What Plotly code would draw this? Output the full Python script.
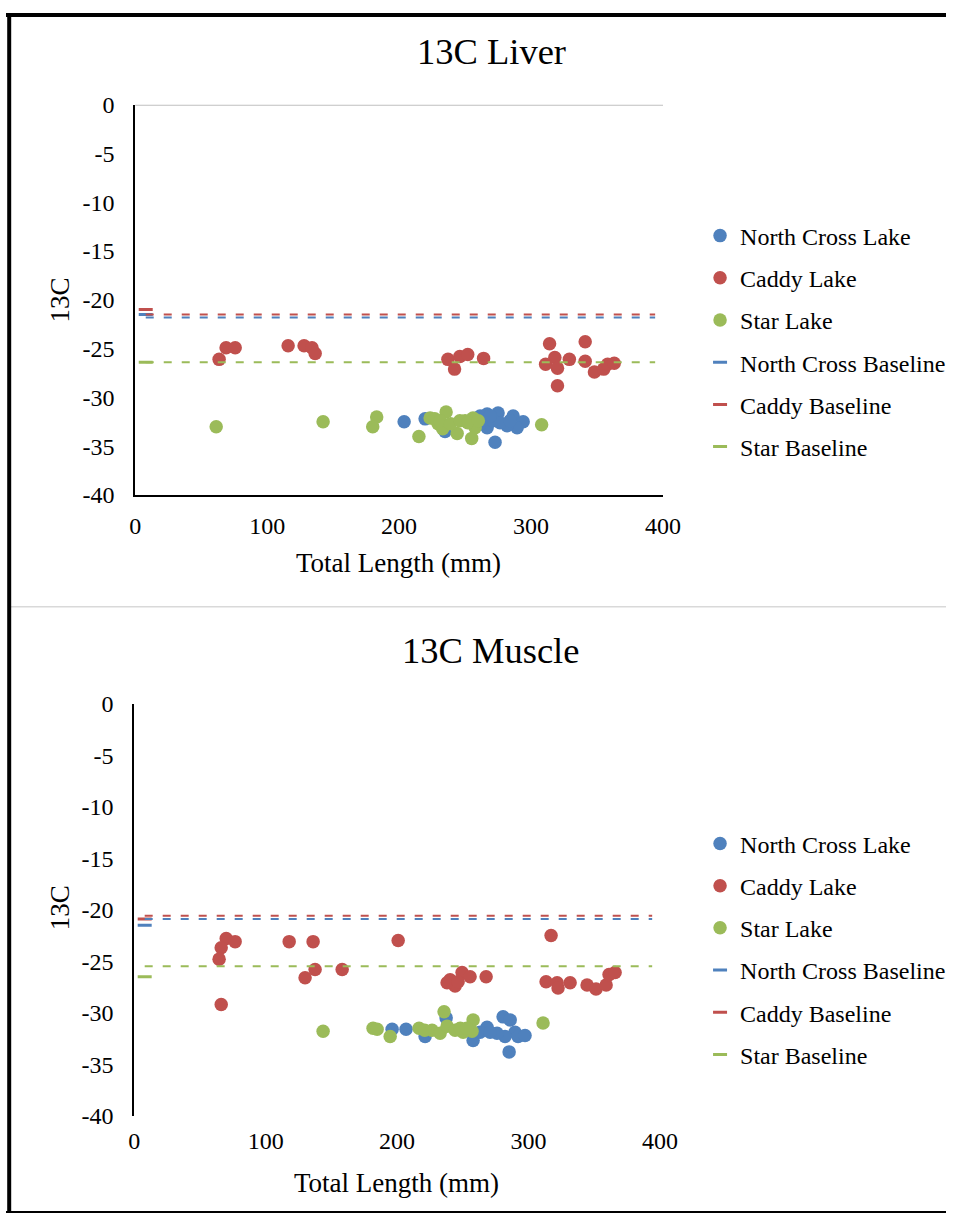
import plotly.graph_objects as go

# ---------------- data: 13C Liver ----------------
liver_nc_x = [203.8, 219.7, 261.4, 266.7, 275.0, 286.4, 294.0, 272.7, 289.4, 281.8, 266.7, 261.4, 234.8, 253.8, 271.0, 276.5, 284.0, 269.0]
liver_nc_y = [-32.5, -32.2, -31.9, -31.7, -31.6, -31.9, -32.5, -34.6, -33.1, -32.9, -33.1, -32.7, -33.5, -32.4, -32.4, -32.6, -32.4, -31.9]
liver_cd_x = [63.6, 68.9, 75.8, 115.9, 128.0, 134.0, 136.4, 237.0, 242.0, 246.0, 252.0, 264.0, 314.0, 318.0, 311.0, 320.0, 320.0, 329.0, 341.0, 341.0, 348.0, 355.0, 358.0, 363.0]
liver_cd_y = [-26.1, -24.9, -24.9, -24.7, -24.7, -24.9, -25.5, -26.1, -27.1, -25.8, -25.6, -26.0, -24.5, -25.9, -26.6, -27.0, -28.8, -26.1, -24.3, -26.3, -27.4, -27.1, -26.6, -26.5]
liver_st_x = [61.4, 142.4, 183.0, 180.0, 215.0, 223.5, 235.6, 229.5, 233.0, 244.0, 250.0, 256.0, 257.6, 255.0, 308.0, 227.0, 231.0, 239.0, 246.0, 252.0, 260.0]
liver_st_y = [-33.0, -32.5, -32.0, -33.0, -34.0, -32.1, -31.5, -32.7, -33.2, -33.7, -32.4, -32.1, -33.1, -34.2, -32.8, -32.2, -32.4, -32.7, -32.4, -32.6, -32.4]
liver_base_x = [8]
liver_base_nc = [-21.5]
liver_base_cd = [-21.0]
liver_base_st = [-26.4]
liver_line_x = [8, 394]
liver_line_nc = [-21.8, -21.8]
liver_line_cd = [-21.5, -21.5]
liver_line_st = [-26.4, -26.4]

# ---------------- data: 13C Muscle ----------------
mus_nc_x = [196.2, 206.8, 221.3, 237.3, 257.8, 268.4, 263.1, 280.6, 286.0, 289.7, 282.1, 292.0, 297.3, 285.2, 276.0, 270.7]
mus_nc_y = [-31.6, -31.6, -32.3, -30.5, -32.7, -31.4, -31.9, -30.4, -30.7, -31.9, -32.3, -32.3, -32.2, -33.8, -32.0, -31.9]
mus_cd_x = [70.0, 76.8, 66.2, 64.6, 66.2, 117.9, 136.1, 130.0, 137.6, 158.2, 200.8, 317.1, 240.3, 244.1, 249.4, 255.5, 267.7, 238.0, 246.4, 313.3, 321.7, 322.4, 331.6, 344.5, 351.3, 359.0, 361.2, 365.8]
mus_cd_y = [-22.8, -23.1, -23.7, -24.8, -29.2, -23.1, -23.1, -26.6, -25.8, -25.8, -23.0, -22.5, -26.8, -27.4, -26.1, -26.5, -26.5, -27.1, -27.0, -27.0, -27.1, -27.6, -27.1, -27.3, -27.7, -27.3, -26.3, -26.1]
mus_st_x = [143.7, 181.7, 184.8, 194.7, 216.7, 235.7, 226.6, 232.7, 238.0, 244.1, 250.2, 257.8, 257.0, 311.0, 221.0, 248.0, 253.0]
mus_st_y = [-31.8, -31.5, -31.6, -32.3, -31.5, -29.9, -31.7, -32.0, -31.3, -31.7, -31.9, -30.7, -31.8, -31.0, -31.7, -31.5, -31.5]
mus_base_x = [8]
mus_base_nc = [-21.5]
mus_base_cd = [-20.9]
mus_base_st = [-26.5]
mus_line_x = [8, 394]
mus_line_nc = [-20.9, -20.9]
mus_line_cd = [-20.6, -20.6]
mus_line_st = [-25.5, -25.5]

x_ticks = [0, 100, 200, 300, 400]
x_tick_labels = ["0", "100", "200", "300", "400"]
y_ticks = [0, -5, -10, -15, -20, -25, -30, -35, -40]
y_tick_labels = ["0", "-5", "-10", "-15", "-20", "-25", "-30", "-35", "-40"]

BLUE = "#4F81BD"
RED = "#C0504D"
GREEN = "#9BBB59"
BLACK = "#000000"
FONT = "Liberation Serif"

W, H = 964, 1226
# where the figure lands in the photographed picture (measured calibration)
PIC_X0, PIC_W = 5.8, 940.2
PIC_Y0, PIC_H = 11.1, 1202.3

fig = go.Figure()


def add_panel(xa, ya, legend, nc, cd, st, bx, bnc, bcd, bst, lx, lnc, lcd, lst):
    ax = dict(xaxis=xa, yaxis=ya)
    for name, (xs, ys), col in [("North Cross Lake", nc, BLUE), ("Caddy Lake", cd, RED), ("Star Lake", st, GREEN)]:
        fig.add_trace(go.Scatter(x=xs, y=ys, mode="markers", name=name, legend=legend,
                                 legendgroup=legend + name,
                                 marker=dict(color=col, size=13.5, line=dict(width=0)), **ax))
    for name, ys, col in [("North Cross Baseline", bnc, BLUE), ("Caddy Baseline", bcd, RED), ("Star Baseline", bst, GREEN)]:
        fig.add_trace(go.Scatter(x=bx, y=ys, mode="markers", name=name, legend=legend,
                                 legendgroup=legend + name,
                                 marker=dict(symbol="line-ew", size=10, line=dict(color=col, width=3)), **ax))
    for ys, col in [(lnc, BLUE), (lcd, RED), (lst, GREEN)]:
        fig.add_trace(go.Scatter(x=lx, y=ys, mode="lines", showlegend=False, hoverinfo="skip",
                                 line=dict(color=col, width=2, dash="8px,10px"), **ax))


add_panel("x", "y", "legend",
          (liver_nc_x, liver_nc_y), (liver_cd_x, liver_cd_y), (liver_st_x, liver_st_y),
          liver_base_x, liver_base_nc, liver_base_cd, liver_base_st,
          liver_line_x, liver_line_nc, liver_line_cd, liver_line_st)
add_panel("x2", "y2", "legend2",
          (mus_nc_x, mus_nc_y), (mus_cd_x, mus_cd_y), (mus_st_x, mus_st_y),
          mus_base_x, mus_base_nc, mus_base_cd, mus_base_st,
          mus_line_x, mus_line_nc, mus_line_cd, mus_line_st)


def px_x(p):
    return min(max((p - PIC_X0) / PIC_W, 0.0), 1.0)


def px_y(p):
    return min(max(1 - (p - PIC_Y0) / PIC_H, 0.0), 1.0)


tickfont = dict(family=FONT, size=24, color=BLACK)

common_x = dict(range=[0, 400], tickvals=x_ticks, ticktext=x_tick_labels, ticks="", showgrid=False,
                zeroline=False, tickfont=tickfont, ticklabelstandoff=8)
common_y = dict(range=[-40, 0], tickvals=y_ticks, ticktext=y_tick_labels, ticks="", showgrid=False,
                zeroline=False, tickfont=tickfont, ticklabelstandoff=14)

legend_common = dict(xanchor="left", yanchor="top",
                     font=dict(family=FONT, size=24, color=BLACK),
                     traceorder="grouped", tracegroupgap=8, itemwidth=30, bgcolor="rgba(0,0,0,0)")


def ann(text, x, y, size, angle=0):
    return dict(text=text, x=px_x(x), y=px_y(y), xref="paper", yref="paper", showarrow=False,
                textangle=angle, xanchor="center", yanchor="middle",
                font=dict(family=FONT, size=size, color=BLACK))


fig.update_layout(
    width=W, height=H,
    margin=dict(l=0, r=0, t=0, b=0),
    paper_bgcolor="white", plot_bgcolor="white",
    showlegend=True,
    xaxis=dict(domain=[px_x(135), px_x(663)], anchor="y", showline=True, linecolor=BLACK, linewidth=1.5, **common_x),
    yaxis=dict(domain=[px_y(494), px_y(103)], anchor="x", showline=True, linecolor=BLACK, linewidth=1.5, **common_y),
    xaxis2=dict(domain=[px_x(134), px_x(660)], anchor="y2", showline=False, **common_x),
    yaxis2=dict(domain=[px_y(1116), px_y(703)], anchor="x2", showline=True, linecolor=BLACK, linewidth=1.5, **common_y),
    legend=dict(x=px_x(700), y=px_y(212), **legend_common),
    legend2=dict(x=px_x(700), y=px_y(821), **legend_common),
    annotations=[
        ann("13C Liver", 491, 50, 36.5),
        ann("13C Muscle", 490, 650, 36.5),
        ann("Total Length (mm)", 398, 562, 27),
        ann("Total Length (mm)", 396, 1183, 27),
        ann("13C", 60, 299, 27, -90),
        ann("13C", 60, 908, 27, -90),
    ],
    shapes=[
        # gray top line of the liver plot at y = 0
        dict(type="line", xref="x", yref="y", x0=0, x1=400, y0=0, y1=0,
             line=dict(color="#BFBFBF", width=2)),
        # separator between the two charts
        dict(type="line", xref="paper", yref="paper", x0=px_x(10), x1=1, y0=px_y(606), y1=px_y(606),
             line=dict(color="#D9D9D9", width=1.5)),
        # outer frame
        dict(type="line", xref="paper", yref="paper", x0=0, x1=1, y0=1 - 2 / H, y1=1 - 2 / H,
             line=dict(color=BLACK, width=4)),
        dict(type="line", xref="paper", yref="paper", x0=px_x(9), x1=px_x(9), y0=0, y1=1,
             line=dict(color=BLACK, width=4)),
        dict(type="line", xref="paper", yref="paper", x0=0, x1=1, y0=1 / H, y1=1 / H,
             line=dict(color=BLACK, width=2)),
    ],
)

post = (
    "document.documentElement.style.margin='0';"
    "document.body.style.margin='0';"
    "document.body.style.overflow='hidden';"
)

fig.write_html("out.html", config={"displayModeBar": False}, post_script=post)
